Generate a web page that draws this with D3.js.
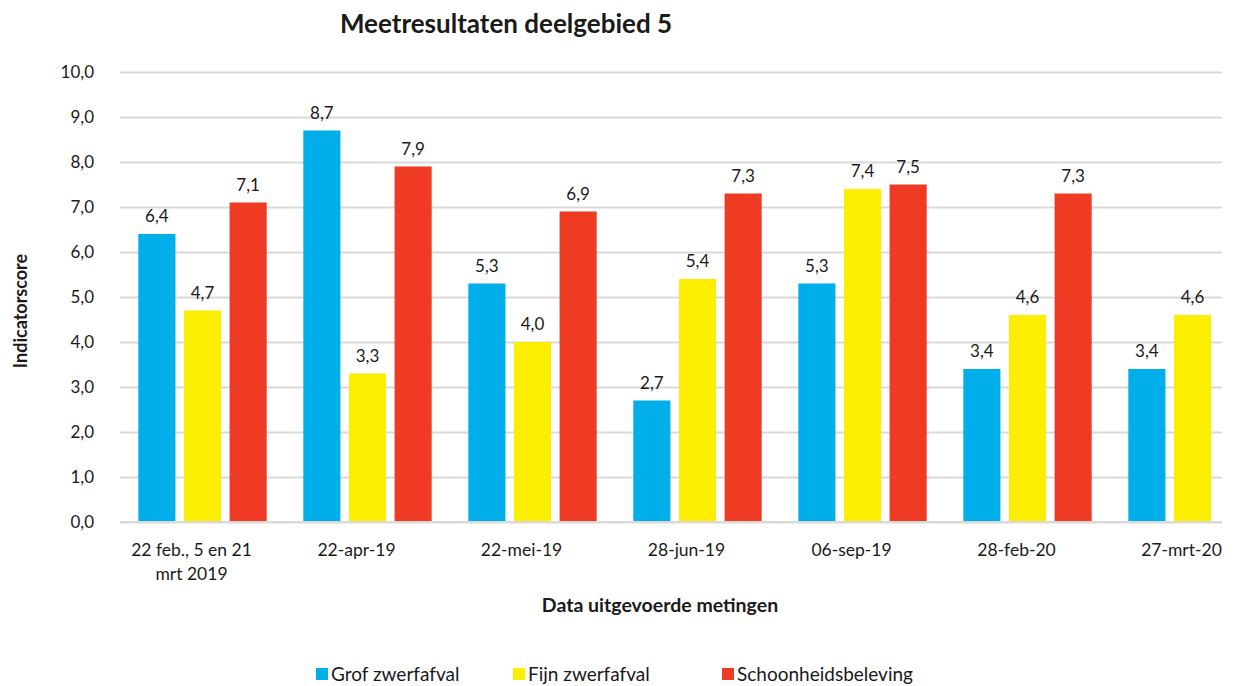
<!DOCTYPE html>
<html>
<head>
<meta charset="utf-8">
<script src="https://cdn.jsdelivr.net/npm/d3@7"></script>
<style>
  body { margin: 0; background: #fff; }
  svg { font-family: Lato, "Open Sans", sans-serif; }
</style>
</head>
<body>
<div id="grafiek"></div>
<script>
// Categorieën (metingen) en reeksen
const categorieen = ["22 feb., 5 en 21\nmrt 2019", "22-apr-19", "22-mei-19", "28-jun-19", "06-sep-19", "28-feb-20", "27-mrt-20"];
const reeksen = ["Grof zwerfafval", "Fijn zwerfafval", "Schoonheidsbeleving"];
const grofZwerfafval = [6.4, 8.7, 5.3, 2.7, 5.3, 3.4, 3.4];
const fijnZwerfafval = [4.7, 3.3, 4.0, 5.4, 7.4, 4.6, 4.6];
const schoonheidsbeleving = [7.1, 7.9, 6.9, 7.3, 7.5, 7.3, null];
const yTicks = [0, 1, 2, 3, 4, 5, 6, 7, 8, 9, 10];

const kleuren = ["#00aeea", "#fcee00", "#ef3b24"];
const waarden = [grofZwerfafval, fijnZwerfafval, schoonheidsbeleving];

const margin = { top: 72, left: 120 };
const width = 1240, height = 686;
const plotHoogte = 450;
const zichtbaarBreed = 1102; // plotgebied is rechts afgesneden

const svg = d3.select("#grafiek").append("svg")
    .attr("width", width)
    .attr("height", height);

const g = svg.append("g").attr("transform", `translate(${margin.left},${margin.top})`);

// Schalen
const x = d3.scaleBand()
    .domain(categorieen)
    .range([0, 1155])
    .paddingInner(0.222)
    .paddingOuter(0.111);

const xSub = d3.scaleBand()
    .domain(reeksen)
    .range([0, x.bandwidth()])
    .paddingInner(0.187);

const y = d3.scaleLinear().domain([0, 10]).range([plotHoogte, 0]);

const fmt = v => d3.format(".1f")(v).replace(".", ",");

// Rasterlijnen en y-as
const yAs = g.append("g")
    .call(d3.axisLeft(y).tickValues(yTicks).tickSize(-zichtbaarBreed).tickPadding(26).tickFormat(fmt));
yAs.select(".domain").remove();
yAs.selectAll("line").attr("stroke", "#d9d9d9").attr("stroke-width", 2);
yAs.selectAll("text").attr("font-size", 17).attr("fill", "#1a1a1a").attr("font-family", "Lato");

// Balken
const groepen = g.selectAll(".groep")
    .data(categorieen)
    .enter().append("g")
    .attr("transform", d => `translate(${x(d)},0)`);

groepen.each(function (cat, i) {
    const data = reeksen.map((r, j) => ({ reeks: r, waarde: waarden[j][i], kleur: kleuren[j] }))
        .filter(d => d.waarde != null);
    const grp = d3.select(this);
    grp.selectAll("rect")
        .data(data)
        .enter().append("rect")
        .attr("x", d => xSub(d.reeks))
        .attr("y", d => y(d.waarde))
        .attr("width", xSub.bandwidth())
        .attr("height", d => y(0) - y(d.waarde))
        .attr("fill", d => d.kleur);
    grp.selectAll("text")
        .data(data)
        .enter().append("text")
        .attr("x", d => xSub(d.reeks) + xSub.bandwidth() / 2)
        .attr("y", d => y(d.waarde) - 12)
        .attr("text-anchor", "middle")
        .attr("font-size", 17)
        .attr("fill", "#1a1a1a")
        .text(d => fmt(d.waarde));
});

// Basislijn
g.append("line")
    .attr("x1", 0).attr("x2", zichtbaarBreed)
    .attr("y1", y(0)).attr("y2", y(0))
    .attr("stroke", "#d9d9d9").attr("stroke-width", 2);

// x-as labels
const xLabels = g.append("g").attr("transform", `translate(0,${plotHoogte})`);
categorieen.forEach(cat => {
    const t = xLabels.append("text")
        .attr("x", x(cat) + x.bandwidth() / 2 - 11)
        .attr("y", 34)
        .attr("text-anchor", "middle")
        .attr("font-size", 17.5)
        .attr("fill", "#1a1a1a");
    cat.split("\n").forEach((regel, k) => {
        t.append("tspan")
            .attr("x", x(cat) + x.bandwidth() / 2 - 11)
            .attr("dy", k === 0 ? 0 : 24)
            .text(regel);
    });
});

// Titels
svg.append("text")
    .attr("x", 506).attr("y", 33)
    .attr("text-anchor", "middle")
    .attr("font-size", 26).attr("font-weight", "bold")
    .attr("fill", "#1a1a1a")
    .text("Meetresultaten deelgebied 5");

svg.append("text")
    .attr("x", 660).attr("y", 612)
    .attr("text-anchor", "middle")
    .attr("font-size", 19.5).attr("font-weight", "bold")
    .attr("fill", "#1a1a1a")
    .text("Data uitgevoerde metingen");

svg.append("text")
    .attr("transform", "translate(27,311) rotate(-90)")
    .attr("text-anchor", "middle")
    .attr("font-size", 18).attr("font-weight", "bold")
    .attr("fill", "#1a1a1a")
    .text("Indicatorscore");

// Legenda
const legendaX = [316, 513, 722];
const legenda = svg.append("g");
reeksen.forEach((r, i) => {
    legenda.append("rect")
        .attr("x", legendaX[i]).attr("y", 668)
        .attr("width", 12).attr("height", 12)
        .attr("fill", kleuren[i]);
    legenda.append("text")
        .attr("x", legendaX[i] + 15).attr("y", 681)
        .attr("font-size", 19)
        .attr("fill", "#1a1a1a")
        .text(r);
});
</script>
</body>
</html>
